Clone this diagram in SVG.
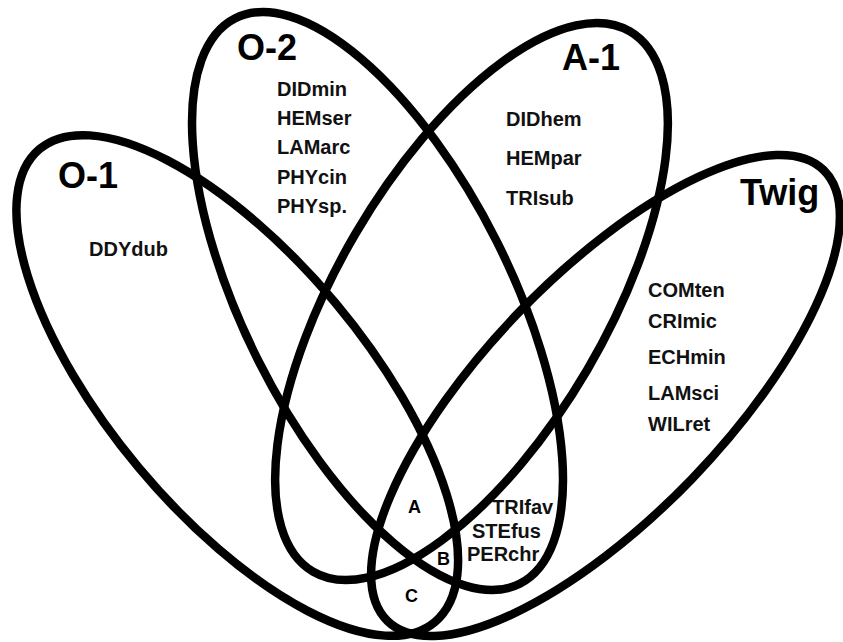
<svg xmlns="http://www.w3.org/2000/svg" width="843" height="642" viewBox="0 0 843 642">
<style>
.set{fill:none;stroke:#000;stroke-width:8.5}
.title{font-family:"Liberation Sans",Arial,sans-serif;font-weight:bold;font-size:36px;fill:#000}
.sp{font-family:"Liberation Sans",Arial,sans-serif;font-weight:bold;font-size:20px;fill:#111}
.reg{font-family:"Liberation Sans",Arial,sans-serif;font-weight:bold;font-size:18px;fill:#000}
</style>
<rect width="843" height="642" fill="#fff"/>
<g id="O-1">
<ellipse class="set" cx="237.25" cy="385.5" rx="308.2" ry="128.3" transform="rotate(50.1 237.25 385.5)"/>
<text class="title" x="58" y="188">O-1</text>
<text class="sp" x="89" y="256">DDYdub</text>
</g>
<g id="O-2">
<ellipse class="set" cx="377.5" cy="301" rx="316.5" ry="133.3" transform="rotate(63.3 377.5 301)"/>
<text class="title" x="237" y="60">O-2</text>
<text class="sp" x="277" y="96">DIDmin</text>
<text class="sp" x="277" y="125">HEMser</text>
<text class="sp" x="277" y="154">LAMarc</text>
<text class="sp" x="277" y="184">PHYcin</text>
<text class="sp" x="277" y="213">PHYsp.</text>
</g>
<g id="A-1">
<ellipse class="set" cx="471.5" cy="301.5" rx="313.2" ry="134.4" transform="rotate(-59.6 471.5 301.5)"/>
<text class="title" x="562" y="70">A-1</text>
<text class="sp" x="506" y="126">DIDhem</text>
<text class="sp" x="506" y="165">HEMpar</text>
<text class="sp" x="506" y="205">TRIsub</text>
</g>
<g id="Twig">
<ellipse class="set" cx="605.5" cy="395.5" rx="313.7" ry="120.1" transform="rotate(-46 605.5 395.5)"/>
<text class="title" x="740" y="205">Twig</text>
<text class="sp" x="648" y="297">COMten</text>
<text class="sp" x="648" y="328">CRImic</text>
<text class="sp" x="648" y="364">ECHmin</text>
<text class="sp" x="648" y="400">LAMsci</text>
<text class="sp" x="648" y="431">WILret</text>
</g>
<g id="overlaps">
<text class="sp" x="492" y="514">TRIfav</text>
<text class="sp" x="472" y="538">STEfus</text>
<text class="sp" x="467" y="561">PERchr</text>
<text class="reg" x="408" y="513">A</text>
<text class="reg" x="437" y="565">B</text>
<text class="reg" x="405" y="602">C</text>
</g>
<g id="connectors"></g>
</svg>
